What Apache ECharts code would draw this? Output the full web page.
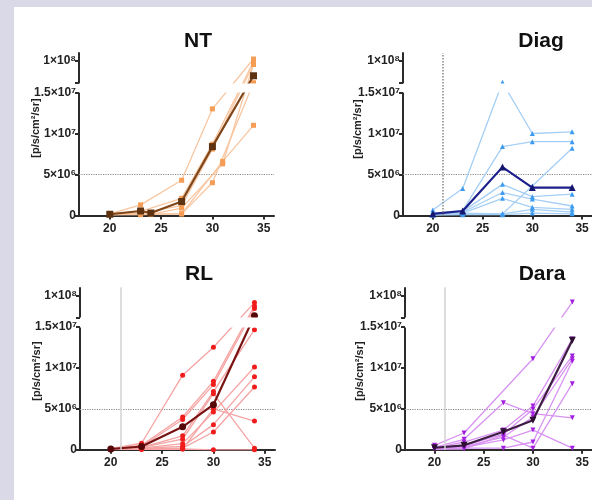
<!DOCTYPE html>
<html><head><meta charset="utf-8">
<script src="https://cdn.jsdelivr.net/npm/echarts@6/dist/echarts.min.js"></script>
<style>
html,body{margin:0;padding:0;background:#d9d9e8;overflow:hidden;}
#bg{position:absolute;left:14px;top:7px;width:578px;height:493px;background:#fff;}
#c{position:absolute;left:0;top:0;width:592px;height:500px;}
</style></head><body><div id="bg"></div><div id="c"></div>
<script>
// ---------- data ----------
const panelTitles = ['NT', 'Diag', 'RL', 'Dara'];
const yAxisName = '[p/s/cm²/sr]';
const xTicks = [20, 25, 30, 35];
const yTicks = [0, 5e6, 1e7, 1.5e7, 1e8];
const yTickLabels = ['0', '5×10⁶', '1×10⁷', '1.5×10⁷', '1×10⁸'];
const thresholdValue = 5e6;
const markerDay = 21;
const breakStart = 1.5e7;
const breakEnd = 9.7317e7;

const ntMice = [
  [[20,2e5],[23,1.3e6],[27,4.3e6],[30,1.3e7],[34,1.0024e8]],
  [[20,2.5e5],[23,5e5],[27,2.1e6],[30,8.7e6],[34,9.99e7]],
  [[20,1.5e5],[23,3e5],[27,1.2e6],[30,8.1e6],[34,9.963e7]],
  [[20,1e5],[24,2e5],[27,2e5],[31,6.6e6],[34,1.1e7]],
  [[20,1e5],[23,1e5],[27,2e5],[30,4.0e6],[34,9.735e7]],
  [[20,1e5],[24,1.5e5],[27,9e5],[31,6.3e6],[34,9.957e7]]
];
const ntMean = [[20,1.5e5],[23,5.5e5],[24,3e5],[27,1.7e6],[30,8.4e6],[34,9.82e7]];

const diagMice = [
  [[20,6.7e5],[23,3.3e6],[27,9.74e7],[30,1.0e7],[34,1.02e7]],
  [[20,3e5],[23,6e5],[27,8.4e6],[30,9.0e6],[34,9.0e6]],
  [[20,1e5],[23,3e5],[27,2e5],[30,3.6e6],[34,8.2e6]],
  [[20,2e5],[23,5e5],[27,3.8e6],[30,2.3e6],[34,2.6e6]],
  [[20,2e5],[23,4e5],[27,2.8e6],[30,2.0e6],[34,1.16e6]],
  [[20,1e5],[23,3e5],[27,2.1e6],[30,1.0e6],[34,7.5e5]],
  [[20,1e5],[23,2e5],[27,2e5],[30,7.5e5],[34,4e5]],
  [[20,5e4],[23,1e5],[27,1e5],[30,3e5],[34,2e5]]
];
const diagMean = [[20,2e5],[23,5.5e5],[27,5.9e6],[30,3.4e6],[34,3.4e6]];

const rlMice = [
  [[20,1.5e5],[23,8e5],[27,9.1e6],[30,1.25e7],[34,9.911e7]],
  [[20,1e5],[23,5.5e5],[27,4.0e6],[30,8.35e6],[34,9.871e7]],
  [[20,1e5],[23,4e5],[27,3.7e6],[30,7.95e6],[34,9.839e7]],
  [[20,1e5],[23,3e5],[27,1.7e6],[30,7.1e6],[34,1.465e7]],
  [[20,1e5],[23,3e5],[27,1.3e6],[30,6.85e6],[34,2e5]],
  [[20,1e5],[23,2e5],[27,7.5e5],[30,4.6e6],[34,1.01e7]],
  [[20,1e5],[23,2e5],[27,4e5],[30,3.07e6],[34,8.9e6]],
  [[20,1e5],[23,1e5],[27,2e5],[30,2.17e6],[34,7.66e6]],
  [[20,1e5],[23,1e5],[27,1e5],[30,5.0e6],[34,3.5e6]],
  [[20,1e5],[23,5e4],[27,1e5],[30,0],[34,0]]
];
const rlMean = [[20,1e5],[23,4e5],[27,2.8e6],[30,5.5e6],[34,9.75e7]];

const daraMice = [
  [[20,5.5e5],[23,2.05e6],[30,1.11e7],[34,9.918e7]],
  [[20,3e5],[23,1.28e6],[27,5.75e6],[30,4.4e6],[34,3.9e6]],
  [[20,2e5],[23,9.5e5],[27,2.4e6],[30,5.35e6],[34,1.35e7]],
  [[20,2e5],[23,5e5],[27,1.9e6],[30,4.95e6],[34,1.145e7]],
  [[20,2e5],[23,4e5],[27,1.56e6],[30,4.0e6],[34,1.11e7]],
  [[20,1e5],[23,3e5],[27,1.2e6],[30,2.4e6],[34,2e5]],
  [[20,1e5],[23,2e5],[27,2e5],[30,9.5e5],[34,1.08e7]],
  [[20,1e5],[23,1e5],[27,1.8e6],[30,2e5],[34,8.07e6]]
];
const daraMean = [[20,2.5e5],[23,5.5e5],[27,2.2e6],[30,3.6e6],[34,1.335e7]];

// ---------- layout & style ----------
const FONT = '"Liberation Sans", Arial, sans-serif';
const panels = [
  {mice: ntMice,   mean: ntMean,   left: 79,  zero: 215.5, titleX: 198, titleY: 42,  nameX: 36,  nameY: 128, vline: false,
   line: '#f8c6a0', mark: '#f59d55', meanLine: '#80471a', meanMark: '#5e3312', symbol: 'rect', rot: 0},
  {mice: diagMice, mean: diagMean, left: 403, zero: 215.5, titleX: 541, titleY: 42,  nameX: 358, nameY: 129, vline: true, vdash: 'dotted', vcolor: '#888',
   line: '#a6cff5', mark: '#3d9cf0', meanLine: '#1c1f8c', meanMark: '#141670', symbol: 'triangle', rot: 0},
  {mice: rlMice,   mean: rlMean,   left: 80,  zero: 449.8, titleX: 199, titleY: 275, nameX: 37,  nameY: 371, vline: true, vdash: 'solid', vcolor: '#d2d2d2',
   line: '#f5a3a3', mark: '#f01c1c', meanLine: '#7a1414', meanMark: '#560808', symbol: 'circle', rot: 0},
  {mice: daraMice, mean: daraMean, left: 405, zero: 449.8, titleX: 542, titleY: 275, nameX: 360, nameY: 371, vline: true, vdash: 'solid', vcolor: '#d2d2d2',
   line: '#d893f2', mark: '#a21fe0', meanLine: '#3d1d44', meanMark: '#2c0f33', symbol: 'triangle', rot: 180}
];
const PX_PER_UNIT = 8.2e-6;  // pixels per value unit in the bottom segment
const GRID_H = 162.5;
const GAP_PX = 9.5;

const grids = [], xAxes = [], yAxes = [], series = [], titles = [], graphics = [];
panels.forEach((p, i) => {
  grids.push({left: p.left, top: p.zero - GRID_H, width: 195, height: GRID_H});
  xAxes.push({
    type: 'value', gridIndex: i, min: 17, max: 36,
    splitLine: {show: false},
    axisLine: {lineStyle: {color: '#2b2b2b', width: 2}},
    axisTick: {customValues: xTicks, length: 4, lineStyle: {color: '#2b2b2b', width: 2}},
    axisLabel: {customValues: xTicks, color: '#222', fontWeight: 'bold', fontSize: 12, fontFamily: FONT, margin: 7}
  });
  yAxes.push({
    type: 'value', gridIndex: i, min: 0, max: 1.00976e8,
    breaks: [{start: breakStart, end: breakEnd, gap: GAP_PX / PX_PER_UNIT}],
    breakArea: {show: true, zigzagAmplitude: 0, zigzagZ: 100, expandOnClick: false,
      itemStyle: {color: '#fff', borderWidth: 0, opacity: 1}},
    splitLine: {show: false},
    axisLine: {show: true, lineStyle: {color: '#2b2b2b', width: 2}},
    axisTick: {customValues: yTicks.concat([breakEnd]), length: 4, lineStyle: {color: '#2b2b2b', width: 2}},
    axisLabel: {customValues: yTicks, color: '#222', fontWeight: 'bold', fontSize: 12, fontFamily: FONT, margin: 3,
      formatter: v => { const k = yTicks.findIndex(t => Math.abs(t - v) < 1); return k >= 0 ? yTickLabels[k] : ''; }}
  });
  p.mice.forEach(m => series.push({
    type: 'line', xAxisIndex: i, yAxisIndex: i, data: m, z: 2,
    symbol: p.symbol, symbolRotate: p.rot, symbolSize: 5,
    lineStyle: {color: p.line, width: 1.3}, itemStyle: {color: p.mark}
  }));
  series.push({
    type: 'line', xAxisIndex: i, yAxisIndex: i, data: p.mean, z: 3,
    symbol: p.symbol, symbolRotate: p.rot, symbolSize: 7,
    lineStyle: {color: p.meanLine, width: 2.2}, itemStyle: {color: p.meanMark},
    markLine: {silent: true, symbol: 'none', label: {show: false}, z: 1,
      data: [{yAxis: thresholdValue, lineStyle: {type: 'dotted', color: '#8a8a8a', width: 1.2}}]}
  });
  if (p.vline) series.push({
    type: 'line', xAxisIndex: i, yAxisIndex: i, data: [], z: 200,
    markLine: {silent: true, symbol: 'none', label: {show: false}, z: 200,
      data: [{xAxis: markerDay, lineStyle: {type: p.vdash, color: p.vcolor, width: 1.5}}]}
  });
  titles.push({text: panelTitles[i], left: p.titleX, top: p.titleY - 11, textAlign: 'center', padding: 0,
    textStyle: {fontFamily: FONT, fontWeight: 'bold', fontSize: 21, color: '#111'}});
  graphics.push({type: 'text', x: p.nameX, y: p.nameY, rotation: Math.PI / 2,
    style: {text: yAxisName, fontFamily: FONT, fontWeight: 'bold', fontSize: 11, fill: '#222', align: 'center', verticalAlign: 'middle'}});
});

const chart = echarts.init(document.getElementById('c'), null, {renderer: 'canvas'});
chart.setOption({
  backgroundColor: 'transparent', animation: false,
  title: titles, grid: grids, xAxis: xAxes, yAxis: yAxes, series: series, graphic: graphics
});
</script></body></html>
